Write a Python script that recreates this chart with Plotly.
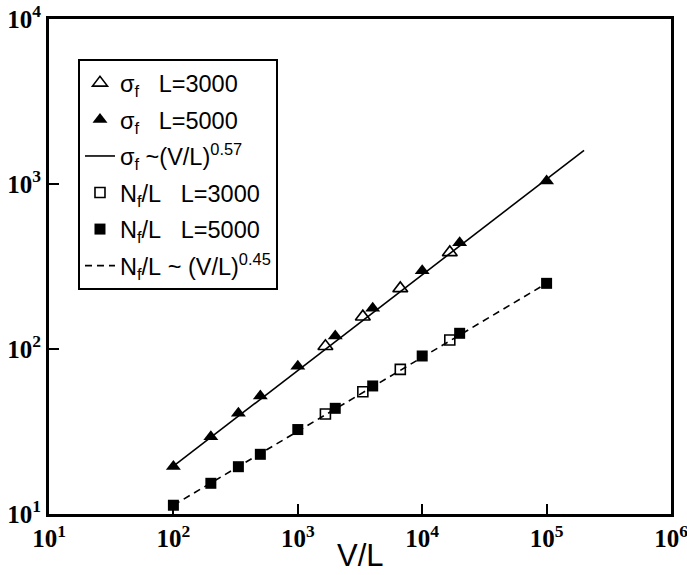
import plotly.graph_objects as go

# ---- data ----
sig_L3000_x = [1667, 3333, 6667, 16667]
sig_L3000_y = [104, 157, 233, 385]

sig_L5000_x = [100, 200, 333, 500, 1000, 2000, 4000, 10000, 20000, 100000]
sig_L5000_y = [19.4, 29.4, 40.8, 51.9, 78.5, 120, 176.5, 298, 440, 1042]

sig_fit_x = [100, 200000]
sig_fit_y = [19.5, 1600]

nf_L3000_x = [1667, 3333, 6667, 16667]
nf_L3000_y = [40.4, 55.1, 75.3, 113.4]

nf_L5000_x = [100, 200, 333, 500, 1000, 2000, 4000, 10000, 20000, 100000]
nf_L5000_y = [11.3, 15.35, 19.35, 23.0, 32.5, 43.7, 59.7, 90.7, 124.5, 250]

nf_fit_x = [100, 100000]
nf_fit_y = [11.3, 250]

x_tickvals = [10, 100, 1000, 10000, 100000, 1000000]
x_ticktext = ["<b>10<sup>1</sup></b>", "<b>10<sup>2</sup></b>", "<b>10<sup>3</sup></b>",
              "<b>10<sup>4</sup></b>", "<b>10<sup>5</sup></b>", "<b>10<sup>6</sup></b>"]
y_tickvals = [10, 100, 1000, 10000]
y_ticktext = ["<b>10<sup>1</sup></b>", "<b>10<sup>2</sup></b>", "<b>10<sup>3</sup></b>",
              "<b>10<sup>4</sup></b>"]
x_title = "V/L"

NB = "\u00a0"
names = [
    "σ<sub>f</sub>" + NB * 3 + "L=3000",
    "σ<sub>f</sub>" + NB * 3 + "L=5000",
    "σ<sub>f</sub>" + NB + "~(V/L)<sup>0.57</sup>",
    "N<sub>f</sub>/L" + NB * 3 + "L=3000",
    "N<sub>f</sub>/L" + NB * 3 + "L=5000",
    "N<sub>f</sub>/L" + NB + "~" + NB + "(V/L)<sup>0.45</sup>",
]

fig = go.Figure()

# fit lines (drawn first so markers sit on top)
fig.add_trace(go.Scatter(x=sig_fit_x, y=sig_fit_y, mode="lines",
                         line=dict(color="black", width=1.6),
                         name=names[2], legendrank=3, legendgroup="g3"))
fig.add_trace(go.Scatter(x=nf_fit_x, y=nf_fit_y, mode="lines",
                         line=dict(color="black", width=1.6, dash="7px,5px"),
                         name=names[5], legendrank=6, legendgroup="g6"))

fig.add_trace(go.Scatter(x=sig_L3000_x, y=sig_L3000_y, mode="markers",
                         marker=dict(symbol="triangle-up-open", size=13, color="black",
                                     line=dict(width=1.6, color="black")),
                         name=names[0], legendrank=1, legendgroup="g1"))
fig.add_trace(go.Scatter(x=sig_L5000_x, y=sig_L5000_y, mode="markers",
                         marker=dict(symbol="triangle-up", size=13, color="black",
                                     line=dict(width=0)),
                         name=names[1], legendrank=2, legendgroup="g2"))
fig.add_trace(go.Scatter(x=nf_L3000_x, y=nf_L3000_y, mode="markers",
                         marker=dict(symbol="square-open", size=10, color="black",
                                     line=dict(width=1.6, color="black")),
                         name=names[3], legendrank=4, legendgroup="g4"))
fig.add_trace(go.Scatter(x=nf_L5000_x, y=nf_L5000_y, mode="markers",
                         marker=dict(symbol="square", size=11, color="black",
                                     line=dict(width=0)),
                         name=names[4], legendrank=5, legendgroup="g5"))

tickfont = dict(family="Liberation Serif", size=25, color="black")

fig.update_layout(
    width=687, height=575,
    margin=dict(l=49, r=16, t=19, b=61, autoexpand=False),
    paper_bgcolor="white", plot_bgcolor="white",
    showlegend=True,
    legend=dict(
        x=0.0466, y=0.919, xanchor="left", yanchor="top",
        bordercolor="black", borderwidth=2, bgcolor="white",
        font=dict(family="Liberation Sans", size=23.5, color="black"),
        traceorder="grouped", tracegroupgap=3,
        itemwidth=30,
    ),
    xaxis=dict(
        type="log", range=[1, 6], automargin=False,
        tickmode="array", tickvals=x_tickvals, ticktext=x_ticktext,
        ticks="inside", ticklen=10, tickwidth=2, tickcolor="black",
        showline=True, linewidth=3, linecolor="black", mirror=True,
        showgrid=False, zeroline=False, ticklabeloverflow="allow",
        tickfont=tickfont,
    ),
    yaxis=dict(
        type="log", range=[1, 4], automargin=False,
        tickmode="array", tickvals=y_tickvals, ticktext=y_ticktext,
        ticks="inside", ticklen=10, tickwidth=2, tickcolor="black",
        showline=True, linewidth=3, linecolor="black", mirror=True,
        showgrid=False, zeroline=False, ticklabeloverflow="allow",
        tickfont=tickfont,
    ),
    annotations=[dict(
        text=x_title, xref="paper", yref="paper", x=0.5, y=-0.083,
        xanchor="center", yanchor="middle", showarrow=False,
        font=dict(family="Liberation Sans", size=31, color="black"),
    )],
)

fig.write_html("out.html")
